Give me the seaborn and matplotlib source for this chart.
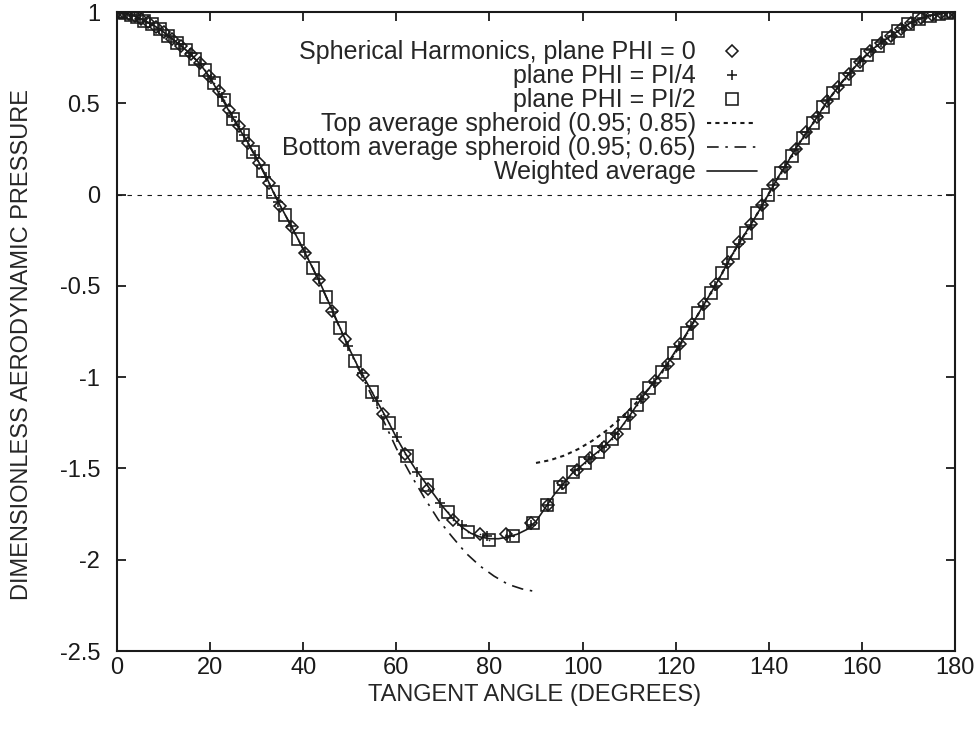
import numpy as np
import pandas as pd
import matplotlib
matplotlib.use("Agg")
import matplotlib.pyplot as plt
import seaborn as sns
from matplotlib.lines import Line2D

sns.set_theme(style="ticks")
plt.rcParams['font.family'] = ['Liberation Sans', 'DejaVu Sans']

# ---- Spherical harmonics, plane PHI = 0 (diamonds) ----
phi0_x = [0.0, 1.2, 2.5, 3.8, 5.2, 6.7, 8.3, 10.1, 11.9, 13.8, 15.8, 17.8, 19.8, 21.9,
          24.0, 26.1, 28.2, 30.4, 32.6, 35.0, 37.6, 40.4, 43.4, 46.2, 49.0, 52.8, 57.1,
          61.9, 66.8, 72.2, 78.0, 83.5, 89.0, 92.6, 95.8, 98.8, 101.7, 104.6, 107.4,
          110.2, 112.9, 115.6, 118.3, 120.9, 123.5, 126.1, 128.7, 131.2, 133.7, 136.2,
          138.6, 141.0, 143.4, 145.8, 148.1, 150.4, 152.6, 154.9, 157.2, 159.5, 161.8,
          164.0, 166.2, 168.4, 170.6, 172.8, 175.0, 177.0, 178.8, 180.0]
phi0_y = [1.000, 0.998, 0.991, 0.978, 0.962, 0.944, 0.920, 0.888, 0.852, 0.814, 0.770,
          0.718, 0.648, 0.570, 0.465, 0.375, 0.280, 0.175, 0.065, -0.060, -0.180, -0.320,
          -0.470, -0.635, -0.790, -0.990, -1.200, -1.420, -1.610, -1.780, -1.860, -1.860,
          -1.800, -1.700, -1.580, -1.510, -1.445, -1.380, -1.310, -1.210, -1.110, -1.020,
          -0.930, -0.820, -0.710, -0.600, -0.490, -0.370, -0.260, -0.160, -0.055, 0.050,
          0.150, 0.250, 0.340, 0.425, 0.510, 0.590, 0.660, 0.725, 0.785, 0.830, 0.868,
          0.905, 0.942, 0.966, 0.982, 0.993, 0.998, 1.000]

# ---- plane PHI = PI/4 (plus signs) ----
phi4_x = [0.0, 1.5, 3.2, 5.0, 7.0, 9.0, 11.2, 13.4, 15.6, 17.9, 20.2, 22.5, 24.8, 27.2,
          29.6, 32.0, 34.6, 37.4, 40.3, 43.3, 46.4, 49.6, 52.6, 55.8, 60.1, 64.4, 69.4,
          74.1, 79.5, 84.5, 89.0, 92.5, 95.5, 98.4, 101.3, 104.2, 107.0, 109.8, 112.6,
          115.3, 118.0, 120.7, 123.3, 125.9, 128.5, 131.1, 133.6, 136.1, 138.6, 141.0,
          143.4, 145.8, 148.2, 150.5, 152.8, 155.1, 157.4, 159.7, 162.0, 164.2, 166.4,
          168.6, 170.8, 173.0, 175.2, 177.3, 179.0, 180.0]
phi4_y = [1.000, 0.997, 0.984, 0.962, 0.938, 0.908, 0.866, 0.822, 0.775, 0.715, 0.635,
          0.535, 0.425, 0.325, 0.215, 0.095, -0.040, -0.170, -0.315, -0.465, -0.645,
          -0.830, -0.980, -1.130, -1.330, -1.520, -1.690, -1.810, -1.870, -1.870, -1.810,
          -1.700, -1.590, -1.510, -1.450, -1.385, -1.310, -1.220, -1.120, -1.030, -0.940,
          -0.830, -0.720, -0.610, -0.500, -0.380, -0.270, -0.165, -0.055, 0.050, 0.150,
          0.250, 0.340, 0.430, 0.520, 0.595, 0.665, 0.730, 0.790, 0.833, 0.870, 0.910,
          0.945, 0.968, 0.983, 0.994, 0.999, 1.000]

# ---- plane PHI = PI/2 (squares) ----
phi2_x = [0.0, 0.8, 1.8, 3.0, 4.4, 5.9, 7.5, 9.2, 11.0, 12.9, 14.8, 16.8, 18.8, 20.8,
          22.9, 25.0, 27.1, 29.2, 31.4, 33.5, 36.1, 38.9, 42.1, 44.9, 47.9, 51.1, 54.8,
          58.4, 62.3, 66.6, 71.0, 75.4, 80.0, 85.0, 89.3, 92.4, 95.1, 97.9, 100.5, 103.3,
          106.3, 108.9, 111.7, 114.3, 117.1, 119.6, 122.4, 124.8, 127.5, 130.0, 132.3,
          135.2, 137.5, 139.8, 142.6, 145.0, 147.3, 149.5, 151.6, 153.8, 156.4, 158.9,
          161.1, 163.4, 165.6, 167.7, 169.9, 172.3, 174.6, 176.6, 178.3, 179.5]
phi2_y = [1.000, 0.999, 0.996, 0.986, 0.971, 0.953, 0.932, 0.905, 0.870, 0.832, 0.792,
          0.745, 0.685, 0.610, 0.520, 0.415, 0.325, 0.235, 0.130, 0.015, -0.110, -0.245,
          -0.400, -0.560, -0.730, -0.910, -1.080, -1.250, -1.430, -1.590, -1.740, -1.850,
          -1.890, -1.870, -1.800, -1.700, -1.600, -1.520, -1.470, -1.410, -1.340, -1.250,
          -1.150, -1.060, -0.970, -0.870, -0.760, -0.650, -0.540, -0.430, -0.320, -0.210,
          -0.100, 0.000, 0.120, 0.210, 0.310, 0.390, 0.480, 0.555, 0.635, 0.710, 0.765,
          0.815, 0.860, 0.895, 0.935, 0.962, 0.980, 0.991, 0.997, 1.000]

# ---- Top average spheroid (0.95; 0.85), upper half ----
top_x = [90, 93, 96, 99, 102, 105, 108, 111, 114, 117, 120, 123, 126, 129, 132, 135,
         138, 141, 144, 147, 150, 153, 156, 159, 162, 165, 168, 171, 174, 177, 180]
top_y = [-1.470, -1.455, -1.430, -1.395, -1.350, -1.295, -1.230, -1.155, -1.070, -0.975,
         -0.865, -0.735, -0.605, -0.475, -0.335, -0.210, -0.085, 0.050, 0.175, 0.300,
         0.410, 0.525, 0.625, 0.715, 0.790, 0.850, 0.900, 0.948, 0.977, 0.993, 1.000]

# ---- Bottom average spheroid (0.95; 0.65), lower half ----
bot_x = [0, 3, 6, 9, 12, 15, 18, 21, 24, 27, 30, 33, 36, 39, 42, 45, 48, 51, 54, 57,
         60, 63, 66, 69, 72, 75, 78, 81, 84, 87, 90]
bot_y = [1.000, 0.986, 0.952, 0.907, 0.850, 0.790, 0.710, 0.600, 0.470, 0.330, 0.195,
         0.045, -0.105, -0.250, -0.400, -0.565, -0.740, -0.910, -1.065, -1.225, -1.390,
         -1.530, -1.660, -1.780, -1.875, -1.965, -2.035, -2.090, -2.135, -2.160, -2.175]

# ---- Weighted average ----
avg_x = [0, 2, 4, 6, 8, 10, 12, 14, 16, 18, 20, 22, 24, 26, 28, 30, 32, 34, 36, 38, 40,
         42, 44, 46, 48, 50, 52, 54, 56, 58, 60, 62, 64, 66, 68, 70, 72, 74, 76, 78, 80,
         82, 84, 86, 88, 90, 92, 94, 96, 98, 100, 102, 104, 106, 108, 110, 112, 114, 116,
         118, 120, 122, 124, 126, 128, 130, 132, 134, 136, 138, 140, 142, 144, 146, 148,
         150, 152, 154, 156, 158, 160, 162, 164, 166, 168, 170, 172, 174, 176, 178, 180]
avg_y = [1.000, 0.995, 0.975, 0.952, 0.925, 0.890, 0.850, 0.810, 0.765, 0.710, 0.640,
         0.550, 0.460, 0.370, 0.290, 0.200, 0.100, -0.010, -0.105, -0.200, -0.300, -0.400,
         -0.505, -0.620, -0.735, -0.850, -0.955, -1.045, -1.140, -1.230, -1.330, -1.420,
         -1.500, -1.570, -1.640, -1.710, -1.770, -1.820, -1.855, -1.875, -1.885, -1.885,
         -1.875, -1.860, -1.835, -1.790, -1.715, -1.640, -1.580, -1.520, -1.480, -1.435,
         -1.395, -1.345, -1.285, -1.215, -1.140, -1.070, -1.005, -0.935, -0.855, -0.775,
         -0.690, -0.605, -0.520, -0.430, -0.335, -0.250, -0.170, -0.085, 0.005, 0.095,
         0.175, 0.260, 0.335, 0.410, 0.490, 0.560, 0.625, 0.685, 0.740, 0.790, 0.830,
         0.865, 0.900, 0.935, 0.960, 0.977, 0.988, 0.996, 1.000]

x_ticks = [0, 20, 40, 60, 80, 100, 120, 140, 160, 180]
y_ticks = [1, 0.5, 0, -0.5, -1, -1.5, -2, -2.5]
y_tick_labels = ['1', '0.5', '0', '-0.5', '-1', '-1.5', '-2', '-2.5']

labels = ['Spherical Harmonics, plane PHI = 0', 'plane PHI = PI/4', 'plane PHI = PI/2',
          'Top average spheroid (0.95; 0.85)', 'Bottom average spheroid (0.95; 0.65)',
          'Weighted average']

W, H = 976, 742
FS_LEG = 18
FS_AX = 17
fig = plt.figure(figsize=(W / 100, H / 100), dpi=100)
ax = fig.add_axes([117 / W, 91 / H, 838 / W, 639 / H])

DOTTED = (0, (2.0, 2.0))
DASHDOT = (0, (7.0, 4.0, 1.5, 4.0))
LW = 1.2
MEW = 1.15

# zero axis
ax.axhline(0, color='k', lw=0.8, ls=(0, (4, 5)), zorder=1)

line_kw = dict(ax=ax, color='k', estimator=None, sort=False, legend=False)

sns.lineplot(x=top_x, y=top_y, lw=1.5, **line_kw)
ax.lines[-1].set_linestyle(DOTTED)
sns.lineplot(x=bot_x, y=bot_y, lw=1.2, **line_kw)
ax.lines[-1].set_linestyle(DASHDOT)
sns.lineplot(x=avg_x, y=avg_y, lw=LW, **line_kw)

mk_kw = dict(ax=ax, color='k', estimator=None, sort=False, legend=False,
             linestyle='none', markerfacecolor='none', markeredgecolor='k',
             markeredgewidth=MEW)
sns.lineplot(x=phi0_x, y=phi0_y, marker='D', markersize=5.8, **mk_kw)
sns.lineplot(x=phi4_x, y=phi4_y, marker='+', markersize=7.5, **mk_kw)
sns.lineplot(x=phi2_x, y=phi2_y, marker='s', markersize=8.6, **mk_kw)
# centre dots of the open symbols
for xs, ys in [(phi0_x, phi0_y), (phi2_x, phi2_y)]:
    sns.lineplot(x=xs, y=ys, ax=ax, color='k', estimator=None, sort=False,
                 legend=False, linestyle='none', marker='o', markersize=1.2,
                 markeredgewidth=0, markerfacecolor='k', markeredgecolor='k')

ax.set_xlim(0, 180)
ax.set_ylim(-2.5, 1)
ax.set_xticks(x_ticks)
ax.set_xticklabels([str(t) for t in x_ticks])
ax.set_yticks(y_ticks)
ax.set_yticklabels(y_tick_labels)
ax.tick_params(direction='in', length=6.5, width=1.3, top=True, right=True,
               labelsize=FS_AX, colors='k')
ax.tick_params(axis='y', pad=12)
ax.tick_params(axis='x', pad=4)
for s in ax.spines.values():
    s.set_linewidth(1.5)
    s.set_color('k')
ax.set_xlabel('')
ax.set_ylabel('')

fig.text(535 / W, 1 - 695 / H, 'TANGENT ANGLE (DEGREES)', ha='center', va='center',
         fontsize=FS_AX)
fig.text(22 / W, 1 - 344 / H, 'DIMENSIONLESS AERODYNAMIC PRESSURE', ha='center',
         va='center', rotation=90, fontsize=FS_AX)

handles = [
    Line2D([], [], ls='none', marker='D', ms=5.8, mfc='none', mec='k', mew=MEW),
    Line2D([], [], ls='none', marker='+', ms=7.5, mec='k', mew=MEW),
    Line2D([], [], ls='none', marker='s', ms=8.0, mfc='none', mec='k', mew=MEW),
    Line2D([], [], color='k', lw=1.5, ls=DOTTED),
    Line2D([], [], color='k', lw=1.2, ls=DASHDOT),
    Line2D([], [], color='k', lw=LW),
]
ax.legend(handles, labels, loc='upper right', bbox_to_anchor=(0.764, 0.9556),
          markerfirst=False, frameon=False, handlelength=2.0, handletextpad=0.45,
          labelspacing=0.0, borderpad=0, borderaxespad=0, fontsize=FS_LEG)

fig.savefig('out.png', dpi=100, facecolor='white')
